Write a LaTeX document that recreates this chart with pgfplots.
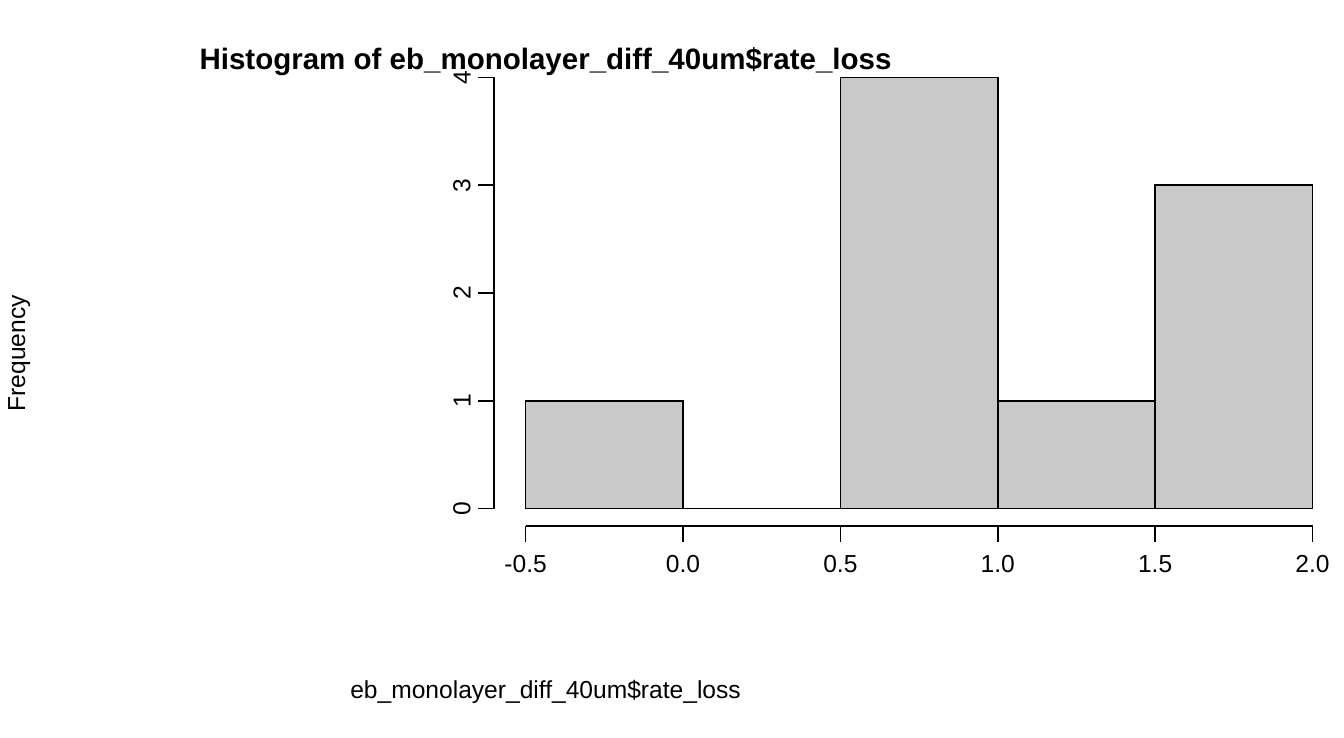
\documentclass[border=0pt]{standalone}
\usepackage{pgfplots}
\pgfplotsset{compat=1.18}
\usepackage{fontspec}
\setmainfont{Liberation Sans}
\begin{document}
\begin{tikzpicture}[x=0.375pt,y=0.375pt]
\path (0,0) rectangle (1344,960);
\begin{axis}[
  at={(157,196.6)}, anchor=south west,
  scale only axis, width=414.75pt, height=227.2pt,
  xmin=-0.6, xmax=2.1, ymin=-0.16, ymax=4.16,
  axis x line*=bottom, axis y line*=left,
  axis line style={draw=none},
  xtick={-0.5,0,0.5,1,1.5,2},
  xticklabels={-0.5,0.0,0.5,1.0,1.5,2.0},
  ytick={0,1,2,3,4},
  tick align=outside, major tick length=7.9pt,
  tick style={black, line width=0.75pt},
  every tick label/.style={font=\fontsize{12}{14}\selectfont},
  /pgf/number format/assume math mode=true,
  yticklabel style={rotate=90, anchor=south, xshift=0pt},
  xticklabel style={yshift=-3pt},
  clip=false,
]
\addplot[ybar interval, fill={rgb,255:red,201;green,201;blue,201}, draw=black, line width=0.75pt]
  coordinates {(-0.5,1) (0,0) (0.5,4) (1,1) (1.5,3) (2,3)};
\draw[line width=0.75pt] (axis cs:-0.5,-0.16) -- (axis cs:2,-0.16);
\draw[line width=0.75pt] (axis cs:-0.6,0) -- (axis cs:-0.6,4);
\end{axis}
\node[font=\fontsize{14.4}{17}\selectfont\bfseries] at (710,880) {Histogram of eb\_monolayer\_diff\_40um\$rate\_loss};
\node[font=\fontsize{12}{14}\selectfont] at (710,60) {eb\_monolayer\_diff\_40um\$rate\_loss};
\node[font=\fontsize{12}{14}\selectfont, rotate=90] at (25,500) {Frequency};
\end{tikzpicture}
\end{document}
